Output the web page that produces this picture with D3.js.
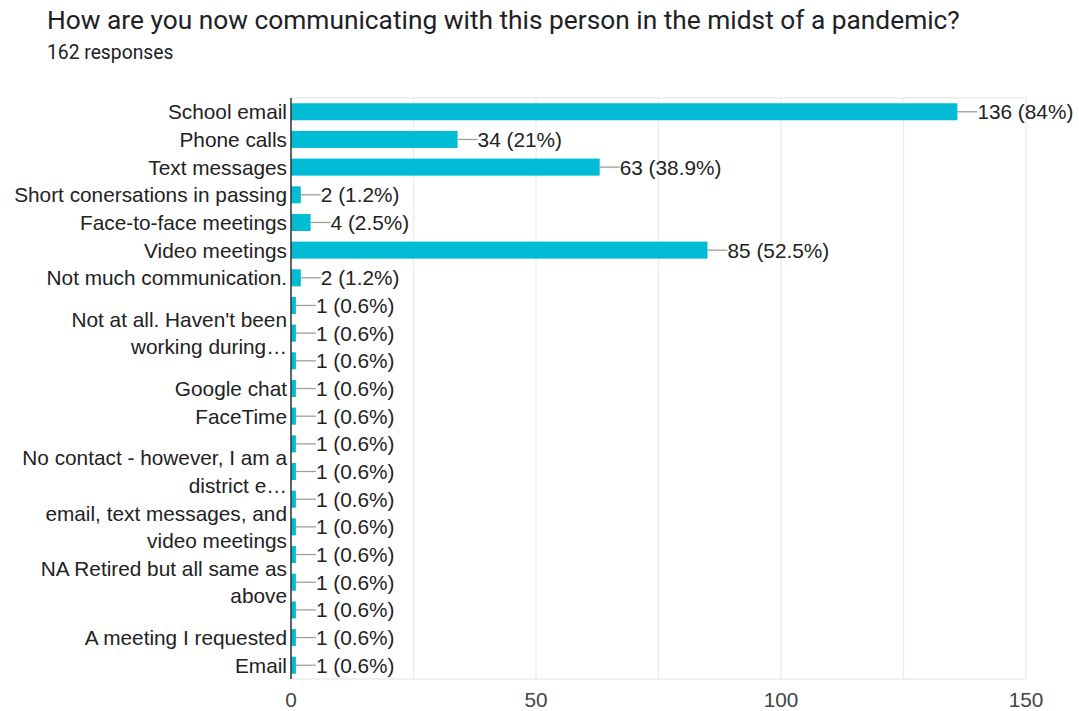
<!DOCTYPE html>
<html>
<head>
<meta charset="utf-8">
<script src="https://cdn.jsdelivr.net/npm/d3@7"></script>
<style>
  html, body { margin: 0; padding: 0; background: #fff; }
  svg { display: block; }
</style>
</head>
<body>
<svg id="chart" width="1079" height="711"></svg>
<script>
// Survey answers, one row per distinct response (in form order)
const categories = [
  "School email", "Phone calls", "Text messages", "Short conersations in passing",
  "Face-to-face meetings", "Video meetings", "Not much communication.",
  "r8", "Not at all. Haven't been working during…", "r10",
  "Google chat", "FaceTime",
  "r13", "No contact - however, I am a district e…", "r15",
  "email, text messages, and video meetings", "r17",
  "NA Retired but all same as above", "r19",
  "A meeting I requested", "Email"
];
// Label lines shown on the axis (empty = label not shown for that row)
const labelLines = [
  ["School email"], ["Phone calls"], ["Text messages"], ["Short conersations in passing"],
  ["Face-to-face meetings"], ["Video meetings"], ["Not much communication."],
  [], ["Not at all. Haven't been", "working during…"], [],
  ["Google chat"], ["FaceTime"],
  [], ["No contact - however, I am a", "district e…"], [],
  ["email, text messages, and", "video meetings"], [],
  ["NA Retired but all same as", "above"], [],
  ["A meeting I requested"], ["Email"]
];
const counts = [136, 34, 63, 2, 4, 85, 2, 1, 1, 1, 1, 1, 1, 1, 1, 1, 1, 1, 1, 1, 1];
const totalResponses = 162;
const xTicks = [0, 50, 100, 150];
const xGrid = [0, 25, 50, 75, 100, 125, 150];

const title = "How are you now communicating with this person in the midst of a pandemic?";
const subtitle = totalResponses + " responses";

(function draw() {
  const svg = d3.select("#chart");
  const plotLeft = 291, plotRight = 1026, plotTop = 98, plotBottom = 679;
  const labelFont = "'Liberation Sans', Arial, sans-serif";
  const labelSize = 20.8;

  const x = d3.scaleLinear().domain([0, 150]).range([plotLeft, plotRight]);
  const y = d3.scaleBand().domain(d3.range(categories.length))
    .range([plotTop, plotBottom]).paddingInner(0.385).paddingOuter(0.19);

  // Heading
  svg.append("text").attr("x", 47).attr("y", 29)
    .attr("font-family", "Roboto, 'Open Sans', sans-serif").attr("font-size", 26.3)
    .attr("fill", "#202124").text(title);
  svg.append("text").attr("x", 47).attr("y", 59)
    .attr("font-family", "Roboto, 'Open Sans', sans-serif").attr("font-size", 19.3)
    .attr("fill", "#202124").text(subtitle);

  // Grid
  svg.append("g").selectAll("line").data(xGrid).join("line")
    .attr("x1", d => x(d)).attr("x2", d => x(d))
    .attr("y1", plotTop).attr("y2", plotBottom)
    .attr("stroke", "#ebebeb").attr("stroke-width", 1.3);
  [plotTop, plotBottom].forEach(yy => {
    svg.append("line").attr("x1", plotLeft).attr("x2", plotRight).attr("y1", yy).attr("y2", yy)
      .attr("stroke", "#ebebeb").attr("stroke-width", 1.3);
  });

  // Bars
  svg.append("g").selectAll("rect").data(counts).join("rect")
    .attr("x", x(0)).attr("y", (d, i) => y(i))
    .attr("width", d => x(d) - x(0)).attr("height", y.bandwidth())
    .attr("fill", "#00bcd4");

  // Leader lines and value labels
  const fmtPct = v => {
    const p = Math.round(v / totalResponses * 1000) / 10;
    return (p % 1 === 0 ? p.toFixed(0) : p.toFixed(1)) + "%";
  };
  const ann = svg.append("g");
  ann.selectAll("line").data(counts).join("line")
    .attr("x1", d => x(d)).attr("x2", d => x(d) + 20)
    .attr("y1", (d, i) => y(i) + y.bandwidth() / 2).attr("y2", (d, i) => y(i) + y.bandwidth() / 2)
    .attr("stroke", "#9e9e9e").attr("stroke-width", 1.3);
  ann.selectAll("text").data(counts).join("text")
    .attr("x", d => x(d) + 20).attr("y", (d, i) => y(i) + y.bandwidth() / 2 + 7.5)
    .attr("font-family", labelFont).attr("font-size", labelSize)
    .attr("fill", "#222").text(d => d + " (" + fmtPct(d) + ")");

  // Category labels
  const lineH = 27.5;
  const labels = svg.append("g");
  labelLines.forEach((lines, i) => {
    if (!lines.length) return;
    const cy = y(i) + y.bandwidth() / 2;
    const start = cy - (lines.length - 1) * lineH / 2;
    lines.forEach((t, k) => {
      labels.append("text").attr("x", plotLeft - 4).attr("y", start + k * lineH + 7.5)
        .attr("text-anchor", "end")
        .attr("font-family", labelFont).attr("font-size", labelSize)
        .attr("fill", "#222").text(t);
    });
  });

  // Baseline axis
  svg.append("line").attr("x1", plotLeft).attr("x2", plotLeft).attr("y1", plotTop).attr("y2", plotBottom)
    .attr("stroke", "#333").attr("stroke-width", 1.5);

  // X tick labels
  svg.append("g").selectAll("text").data(xTicks).join("text")
    .attr("x", d => x(d)).attr("y", 707)
    .attr("text-anchor", "middle")
    .attr("font-family", labelFont).attr("font-size", labelSize)
    .attr("fill", "#444").text(d => d);
})();
</script>
</body>
</html>
